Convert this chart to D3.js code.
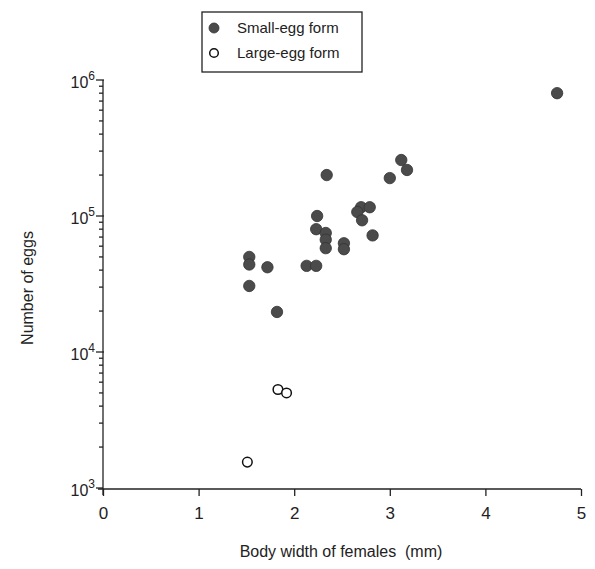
<!DOCTYPE html>
<html>
<head>
<meta charset="utf-8">
<script src="https://cdn.jsdelivr.net/npm/d3@7"></script>
<style>
  body { margin: 0; background: #fff; }
  svg { font-family: "Liberation Sans", Arial, sans-serif; }
  .axis path, .axis line { stroke: #222; stroke-width: 1.3; }
</style>
</head>
<body>
<svg width="595" height="569"></svg>
<script>
// Small-egg form: body width (mm) and number of eggs
const smallWidth = [4.75, 3.12, 3.18, 3.0, 2.34, 2.70, 2.79, 2.66, 2.71, 2.24, 2.23,
  2.33, 2.33, 2.33, 2.52, 2.52, 2.82, 1.53, 1.53, 1.72, 2.13, 2.23, 1.53, 1.82];
const smallEggs = [8.0e5, 2.58e5, 2.18e5, 1.9e5, 2.0e5, 1.16e5, 1.16e5, 1.07e5, 9.3e4, 1.0e5, 8.0e4,
  7.5e4, 6.7e4, 5.8e4, 6.3e4, 5.7e4, 7.2e4, 5.0e4, 4.4e4, 4.2e4, 4.3e4, 4.3e4, 3.06e4, 1.97e4];

// Large-egg form
const largeWidth = [1.83, 1.92, 1.51];
const largeEggs = [5.3e3, 5.0e3, 1.55e3];

const xTicks = [0, 1, 2, 3, 4, 5];
const yMajor = [3, 4, 5, 6]; // powers of ten

const svg = d3.select('svg');

const x = d3.scaleLinear().domain([0, 5]).range([103, 581]);
const y = d3.scaleLog().domain([1e3, 1e6]).range([488, 80]);

// minor ticks at 2..9 x 10^n
const yMinor = [];
for (let p = 3; p < 6; p++) {
  for (let m = 2; m < 10; m++) yMinor.push(m * Math.pow(10, p));
}

const yAxis = svg.append('g').attr('class', 'axis');
yAxis
  .append('line')
  .attr('x1', x(0))
  .attr('x2', x(0))
  .attr('y1', y(1e6))
  .attr('y2', y(1e3) + 7);
yAxis
  .selectAll('line.minor')
  .data(yMinor)
  .enter()
  .append('line')
  .attr('class', 'minor')
  .attr('x1', x(0) - 4)
  .attr('x2', x(0))
  .attr('y1', d => y(d))
  .attr('y2', d => y(d));
yAxis
  .selectAll('line.major')
  .data(yMajor)
  .enter()
  .append('line')
  .attr('class', 'major')
  .attr('x1', x(0) - 7)
  .attr('x2', d => (d === 3 ? x(0) : x(0) + 1))
  .attr('y1', d => y(Math.pow(10, d)))
  .attr('y2', d => y(Math.pow(10, d)));

// power-of-ten labels
const yLab = svg
  .append('g')
  .selectAll('text')
  .data(yMajor)
  .enter()
  .append('text')
  .attr('x', x(0) - 8)
  .attr('y', d => y(Math.pow(10, d)) + 8)
  .attr('text-anchor', 'end')
  .attr('font-size', 16)
  .attr('fill', '#222');
yLab.append('tspan').text('10');
yLab
  .append('tspan')
  .attr('dy', -8)
  .attr('font-size', 12)
  .text(d => d);

// X axis
const xAxis = svg
  .append('g')
  .attr('class', 'axis')
  .attr('transform', `translate(0,${y(1e3) + 1})`)
  .call(d3.axisBottom(x).tickValues(xTicks).tickSize(7).tickSizeOuter(0).tickFormat(d3.format('d')));
xAxis.select('.domain').attr('d', `M${x(0) - 5},0H${x(5)}`);
xAxis
  .selectAll('.tick text')
  .attr('font-size', 17)
  .attr('font-family', '"Liberation Sans", Arial, sans-serif')
  .attr('fill', '#222')
  .attr('dy', '1.15em');

// Axis titles
svg
  .append('text')
  .attr('transform', 'translate(33,288) rotate(-90)')
  .attr('text-anchor', 'middle')
  .attr('font-size', 16)
  .attr('fill', '#222')
  .text('Number of eggs');

svg
  .append('text')
  .attr('x', 341)
  .attr('y', 557)
  .attr('text-anchor', 'middle')
  .attr('font-size', 16)
  .attr('fill', '#222')
  .style('white-space', 'pre')
  .text('Body width of females  (mm)');

// Points
svg
  .append('g')
  .selectAll('circle')
  .data(smallWidth.map((w, i) => ({ w, n: smallEggs[i] })))
  .enter()
  .append('circle')
  .attr('cx', d => x(d.w))
  .attr('cy', d => y(d.n))
  .attr('r', 5.7)
  .attr('fill', '#4b4b4b')
  .attr('stroke', '#333')
  .attr('stroke-width', 0.8);

svg
  .append('g')
  .selectAll('circle')
  .data(largeWidth.map((w, i) => ({ w, n: largeEggs[i] })))
  .enter()
  .append('circle')
  .attr('cx', d => x(d.w))
  .attr('cy', d => y(d.n))
  .attr('r', 4.8)
  .attr('fill', '#fff')
  .attr('stroke', '#111')
  .attr('stroke-width', 1.5);

// Legend
const legend = svg.append('g');
legend
  .append('rect')
  .attr('x', 202)
  .attr('y', 12)
  .attr('width', 160)
  .attr('height', 60)
  .attr('fill', 'none')
  .attr('stroke', '#222')
  .attr('stroke-width', 1.3);
legend
  .append('circle')
  .attr('cx', 214)
  .attr('cy', 28)
  .attr('r', 5)
  .attr('fill', '#4b4b4b')
  .attr('stroke', '#333')
  .attr('stroke-width', 0.8);
legend
  .append('circle')
  .attr('cx', 214)
  .attr('cy', 53)
  .attr('r', 4.3)
  .attr('fill', '#fff')
  .attr('stroke', '#111')
  .attr('stroke-width', 1.5);
legend
  .selectAll('text')
  .data(['Small-egg form', 'Large-egg form'])
  .enter()
  .append('text')
  .attr('x', 237)
  .attr('y', (d, i) => 33 + i * 25)
  .attr('font-size', 15)
  .attr('fill', '#222')
  .text(d => d);
</script>
</body>
</html>
